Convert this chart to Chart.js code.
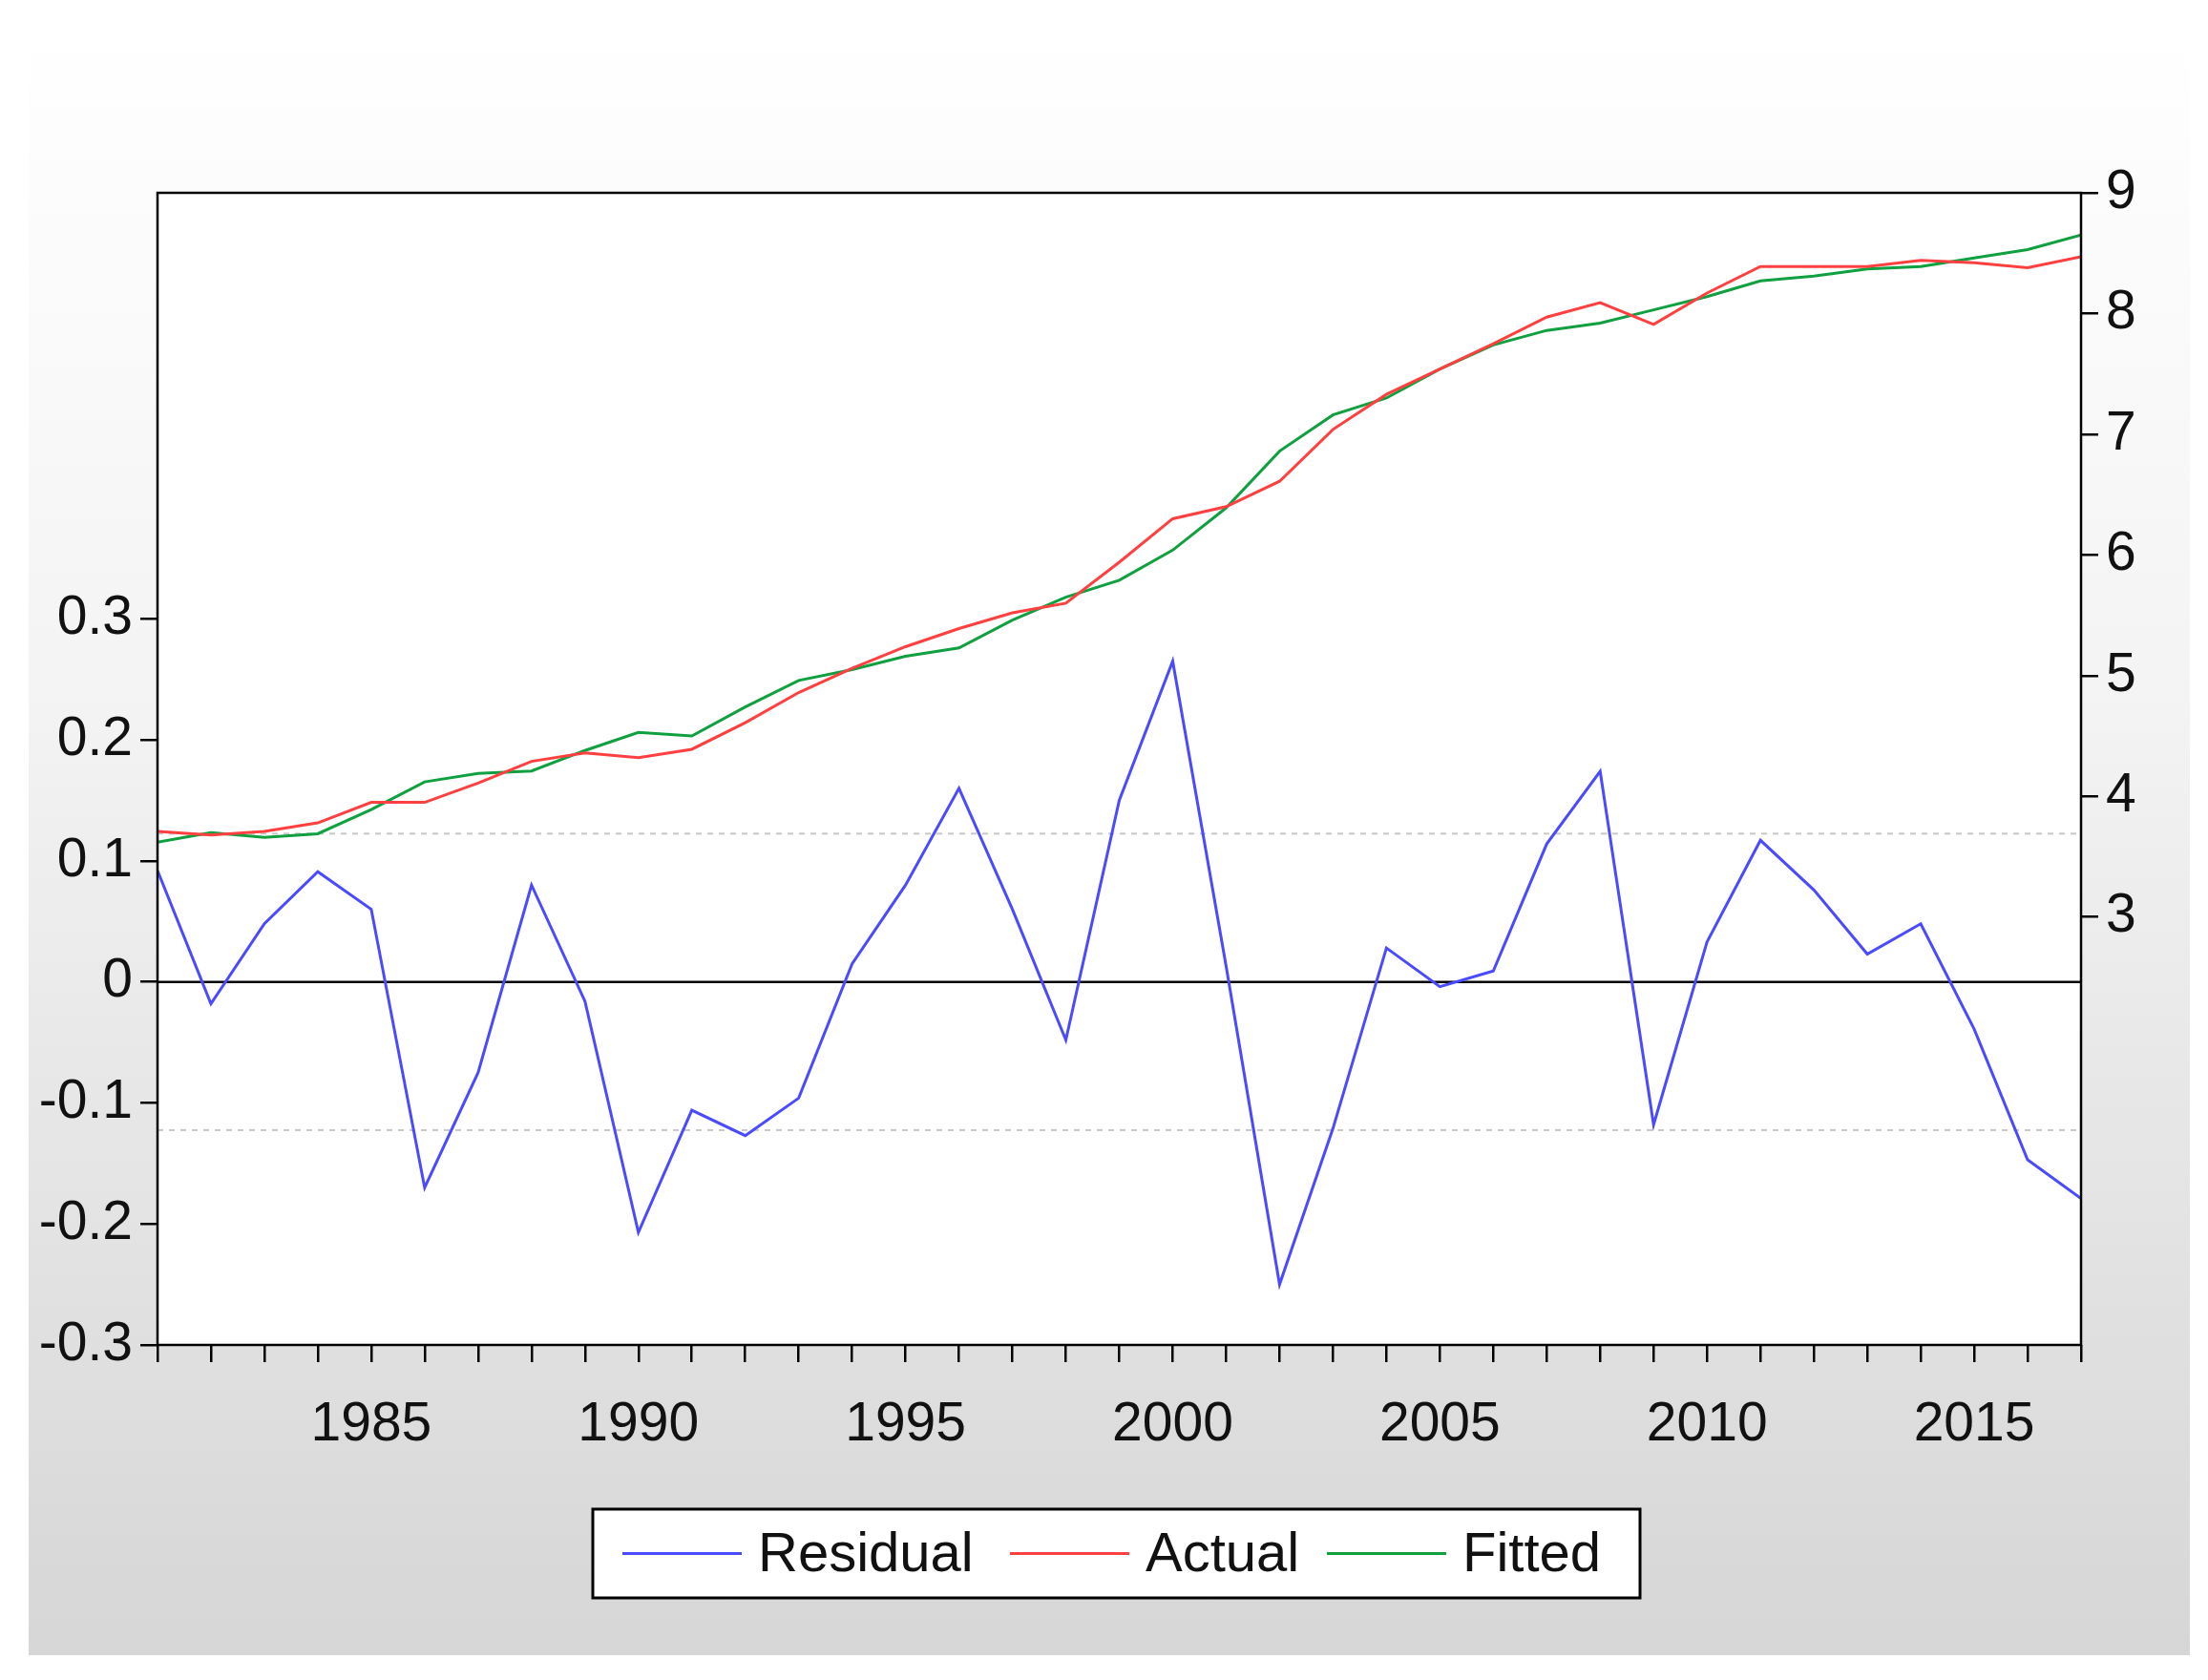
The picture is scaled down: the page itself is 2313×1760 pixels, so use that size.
<!DOCTYPE html>
<html><head><meta charset="utf-8">
<script src="https://cdn.jsdelivr.net/npm/chart.js@4"></script>
<style>
html,body{margin:0;padding:0;}
body{width:2313px;height:1760px;background:#fff;}
#frame{position:absolute;left:30px;top:22px;width:2264px;height:1712px;background:linear-gradient(#ffffff 0%,#f4f4f4 40%,#d6d6d6 100%);}
canvas{position:absolute;left:0;top:0;}
</style></head><body>
<div id="frame"></div>
<canvas id="c" width="2313" height="1760"></canvas>
<script>
const years = [];
for (let y = 1981; y <= 2017; y++) years.push(y);
const residual = [0.092,-0.018,0.048,0.091,0.06,-0.17,-0.075,0.08,-0.016,-0.207,-0.106,-0.127,-0.096,0.015,0.08,0.16,0.06,-0.048,0.15,0.265,0.013,-0.25,-0.121,0.028,-0.004,0.009,0.114,0.174,-0.118,0.033,0.117,0.076,0.023,0.048,-0.039,-0.147,-0.179];
const actual = [3.71,3.68,3.71,3.78,3.95,3.95,4.11,4.29,4.36,4.32,4.39,4.61,4.86,5.06,5.24,5.39,5.52,5.60,5.94,6.30,6.40,6.61,7.04,7.33,7.54,7.75,7.97,8.09,7.91,8.17,8.39,8.39,8.39,8.44,8.42,8.38,8.47];
const fitted = [3.62,3.70,3.66,3.69,3.89,4.12,4.19,4.21,4.38,4.53,4.50,4.74,4.96,5.05,5.16,5.23,5.46,5.65,5.79,6.04,6.39,6.86,7.16,7.30,7.54,7.74,7.86,7.92,8.03,8.14,8.27,8.31,8.37,8.39,8.46,8.53,8.65];
const leftTicks = [-0.3,-0.2,-0.1,0,0.1,0.2,0.3];
const rightTicks = [3,4,5,6,7,8,9];
const xLabels = [1985,1990,1995,2000,2005,2010,2015];
const bandValue = 0.1225;
const legendLabels = ['Residual','Actual','Fitted'];
const colors = ['#4a4aff','#ff4040','#10a040'];
const FONT = '"Liberation Sans", Arial, sans-serif';

const pts = arr => arr.map((v,i)=>({x:years[i],y:v}));

const decor = {
  id:'decor',
  beforeDatasetsDraw(chart){
    const {ctx, chartArea:a, scales} = chart;
    ctx.save();
    ctx.fillStyle='#fff';
    ctx.fillRect(a.left,a.top,a.right-a.left,a.bottom-a.top);
    const yl = scales.yL;
    ctx.strokeStyle='#c8c8c8'; ctx.lineWidth=2; ctx.setLineDash([6,6]);
    [bandValue,-bandValue].forEach(v=>{const y=yl.getPixelForValue(v);ctx.beginPath();ctx.moveTo(a.left,y);ctx.lineTo(a.right,y);ctx.stroke();});
    ctx.setLineDash([]);
    ctx.strokeStyle='#000'; ctx.lineWidth=2.5;
    const y0=yl.getPixelForValue(0);
    ctx.beginPath();ctx.moveTo(a.left,y0);ctx.lineTo(a.right,y0);ctx.stroke();
    ctx.restore();
  },
  afterDraw(chart){
    const {ctx, chartArea:a} = chart;
    ctx.save();
    ctx.strokeStyle='#000'; ctx.lineWidth=2.5;
    ctx.strokeRect(a.left,a.top,a.right-a.left,a.bottom-a.top);
    const bx=621, by=1581, bw=1097, bh=93;
    ctx.fillStyle='#fff'; ctx.fillRect(bx,by,bw,bh);
    ctx.lineWidth=3; ctx.strokeRect(bx,by,bw,bh);
    ctx.font='58px '+FONT; ctx.textBaseline='middle';
    const cy=by+bh/2;
    const starts=[652,1058,1390];
    legendLabels.forEach((t,i)=>{
      ctx.strokeStyle=colors[i]; ctx.lineWidth=3;
      ctx.beginPath();ctx.moveTo(starts[i],cy);ctx.lineTo(starts[i]+125,cy);ctx.stroke();
      ctx.fillStyle='#111'; ctx.fillText(t,starts[i]+142,cy+2);
    });
    ctx.restore();
  }
};

new Chart(document.getElementById('c'),{
  type:'line',
  data:{datasets:[
    {label:legendLabels[0],data:pts(residual),yAxisID:'yL',borderColor:colors[0],borderWidth:3,pointRadius:0,tension:0},
    {label:legendLabels[1],data:pts(actual),yAxisID:'yR',borderColor:colors[1],borderWidth:3,pointRadius:0,tension:0},
    {label:legendLabels[2],data:pts(fitted),yAxisID:'yR',borderColor:colors[2],borderWidth:3,pointRadius:0,tension:0}
  ]},
  options:{
    responsive:false,animation:false,
    layout:{padding:{top:202,bottom:0,left:0,right:0}},
    plugins:{legend:{display:false},tooltip:{enabled:false}},
    scales:{
      x:{type:'linear',min:1981,max:2017,
        afterBuildTicks(s){s.ticks=years.map(v=>({value:v}));},
        afterFit(s){s.height=351;},
        border:{display:false},
        grid:{drawOnChartArea:false,drawTicks:true,tickLength:18,color:'#000',lineWidth:2.5},
        ticks:{autoSkip:false,maxRotation:0,padding:32,color:'#111',font:{family:FONT,size:57},
          callback:v=>xLabels.includes(v)?String(v):''}},
      yL:{position:'left',min:-0.3,max:0.652,
        afterBuildTicks(s){s.ticks=leftTicks.map(v=>({value:v}));},
        afterFit(s){s.width=165;},
        border:{display:false},
        grid:{drawOnChartArea:false,tickLength:18,color:'#000',lineWidth:2.5},
        ticks:{padding:8,color:'#111',font:{family:FONT,size:57},
          callback:v=>{const r=Math.round(v*10)/10;return r===0?'0':String(r);}}},
      yR:{position:'right',min:-0.545,max:9,
        afterBuildTicks(s){s.ticks=rightTicks.map(v=>({value:v}));},
        afterFit(s){s.width=133;},
        border:{display:false},
        grid:{drawOnChartArea:false,tickLength:18,color:'#000',lineWidth:2.5},
        ticks:{padding:8,color:'#111',font:{family:FONT,size:57}}}
    }
  },
  plugins:[decor]
});
</script>
</body></html>
